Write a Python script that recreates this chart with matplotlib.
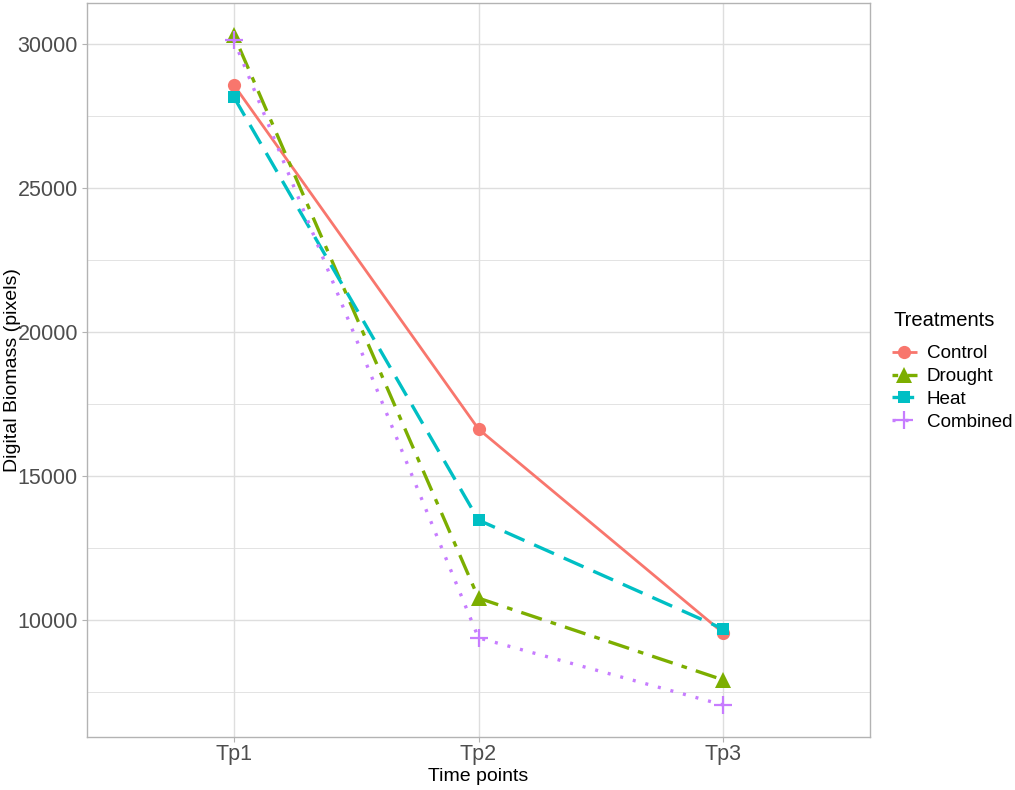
import matplotlib
matplotlib.use("Agg")
import matplotlib.pyplot as plt
from matplotlib.ticker import FixedLocator

plt.rcParams['font.family'] = ['Liberation Sans', 'DejaVu Sans']

timepoints = ["Tp1", "Tp2", "Tp3"]
treatments = ["Control", "Drought", "Heat", "Combined"]
control = [28580, 16630, 9550]
drought = [30310, 10760, 7920]
heat = [28160, 13470, 9690]
combined = [30140, 9380, 7050]

series = [control, drought, heat, combined]
colors = ["#F8766D", "#7CAE00", "#00BFC4", "#C77CFF"]
markers = ["o", "^", "s", "+"]
msizes = [9.5, 11, 9, 13]
lws = [2.0, 2.4, 2.4, 2.4]
dashes = [None, (1.7, 2.8, 6.5, 2.8), (6.5, 3.2), (0.9, 3.0)]

fig = plt.figure(figsize=(10.15, 7.9), dpi=100)
ax = fig.add_axes([87/1015, 1-737/790, (870-87)/1015, (737-3)/790])

x = list(range(len(timepoints)))
for vals, name, c, m, ms, lw, d in zip(series, treatments, colors, markers, msizes, lws, dashes):
    line, = ax.plot(x, vals, color=c, lw=lw, marker=m, markersize=ms,
                    markeredgewidth=(1.6 if m == "+" else 0), label=name,
                    solid_capstyle='butt', dash_capstyle='butt')
    if d is not None:
        line.set_dashes(d)

ax.set_xlim(-0.6, 2.6)
ax.set_ylim(5938, 31424)
ax.set_xticks(x)
ax.set_xticklabels(timepoints)
ax.yaxis.set_major_locator(FixedLocator([10000, 15000, 20000, 25000, 30000]))
ax.yaxis.set_minor_locator(FixedLocator([7500, 12500, 17500, 22500, 27500]))

ax.grid(which='major', color='#DEDEDE', lw=1.0)
ax.grid(which='minor', axis='y', color='#DEDEDE', lw=0.6)
ax.set_axisbelow(True)
for s in ax.spines.values():
    s.set_color('#B3B3B3')
    s.set_linewidth(1.0)
ax.tick_params(which='major', length=3.5, width=0.8, color='#B3B3B3',
               labelsize=15.5, labelcolor='#4D4D4D', pad=3)
ax.tick_params(axis='x', which='major', pad=1.5)
ax.tick_params(which='minor', length=0)

ax.set_xlabel("Time points", fontsize=14, color='black', labelpad=2)
ax.set_ylabel("Digital Biomass (pixels)", fontsize=14, color='black', va='center')
ax.yaxis.set_label_coords((13 - 87) / 783, 0.5)

fig.text(893/1015, 1-321/790, "Treatments", fontsize=14.5, ha='left', va='center')
leg = ax.legend(loc='upper left',
                bbox_to_anchor=(892/1015, 1-345/790), bbox_transform=fig.transFigure,
                frameon=False, fontsize=13.6,
                handlelength=1.3, handletextpad=0.55, labelspacing=0.3,
                borderpad=0, borderaxespad=0)

fig.savefig("out.png", dpi=100)
